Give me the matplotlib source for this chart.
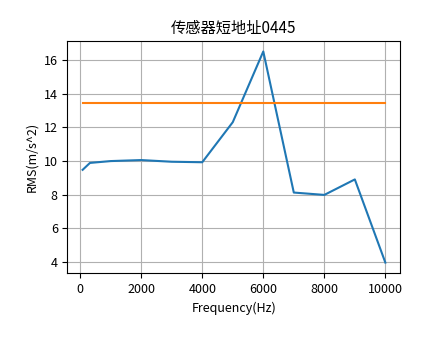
import numpy as np
import matplotlib
matplotlib.use("Agg")
import matplotlib.pyplot as plt

plt.rcParams['font.family'] = ['Noto Sans CJK SC', 'DejaVu Sans']
plt.rcParams['axes.unicode_minus'] = False

freq = [80, 320, 1000, 2000, 3000, 4000, 5000, 6000, 7000, 8000, 9000, 10000]
rms = [9.47, 9.88, 9.99, 10.05, 9.95, 9.92, 12.3, 16.5, 8.12, 7.98, 8.9, 3.96]
limit_x = [80, 10000]
limit_y = [13.43, 13.43]

fig = plt.figure(figsize=(4.44, 3.41), dpi=100)
ax = fig.add_axes([0.152, 0.199, 0.75, 0.681])
ax.plot(freq, rms)
ax.plot(limit_x, limit_y)
ax.set_title("传感器短地址0445", fontsize=11)
ax.set_xlabel("Frequency(Hz)", fontsize=9)
ax.set_ylabel("RMS(m/s^2)", fontsize=9)
ax.set_yticks([4, 6, 8, 10, 12, 14, 16])
ax.tick_params(labelsize=9)
ax.grid()

fig.savefig("out.png", dpi=100)
